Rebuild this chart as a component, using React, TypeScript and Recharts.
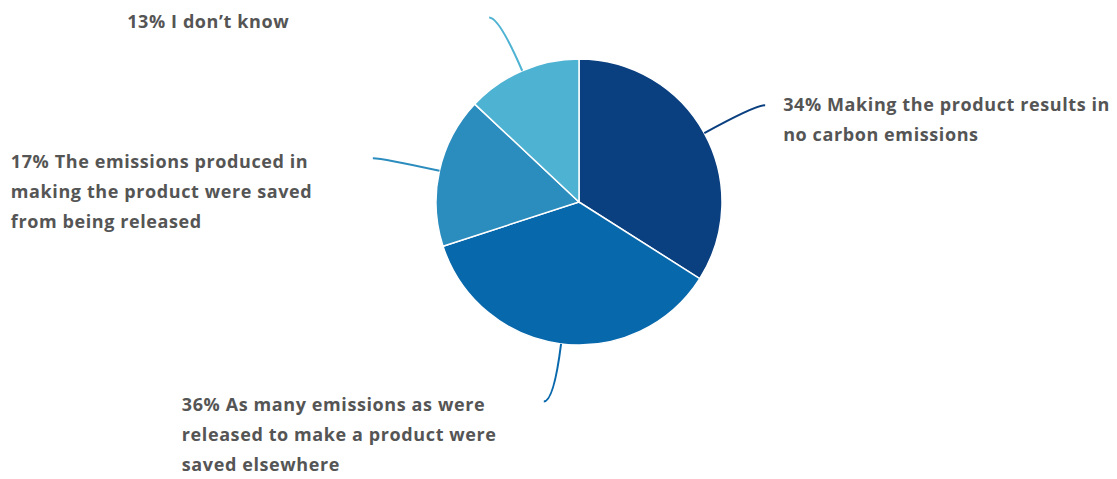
import { PieChart, Pie, Cell } from "recharts";

const categories = [
  "Making the product results in\nno carbon emissions",
  "As many emissions as were\nreleased to make a product were\nsaved elsewhere",
  "The emissions produced in\nmaking the product were saved\nfrom being released",
  "I don\u2019t know",
];
const shares = [34, 36, 17, 13];
const colors = ["#0a3f80", "#0868ac", "#2b8cbe", "#4eb3d3"];

const data = categories.map((name, i) => ({ name, value: shares[i] }));

const RAD = Math.PI / 180;

function renderLabel(props: any) {
  const { cx, cy, midAngle, outerRadius, index, value } = props;
  const cos = Math.cos(-midAngle * RAD);
  const sin = Math.sin(-midAngle * RAD);
  const right = cos >= 0;
  const sx = cx + outerRadius * cos;
  const sy = cy + outerRadius * sin;
  const qx = cx + (outerRadius + 58) * cos;
  const qy = cy + (outerRadius + 58) * sin;
  const ex = qx + (right ? 10 : -10);
  const ey = qy;
  const lines = `${value}% ${categories[index]}`.split("\n");
  const tx = right ? ex + 18 : ex - 362;
  const ty = right ? ey + 6 : ey + 10;
  return (
    <g key={`lbl-${index}`}>
      <path
        d={`M${sx},${sy} Q${qx},${qy} ${ex},${ey}`}
        stroke={colors[index]}
        strokeWidth={2}
        fill="none"
      />
      <text
        x={tx}
        y={ty}
        fill="#555555"
        fontSize={18}
        fontWeight={700}
        letterSpacing={0.6}
        fontFamily="'Open Sans', sans-serif"
        textAnchor="start"
      >
        {lines.map((l, i) => (
          <tspan key={i} x={tx} dy={i === 0 ? 0 : 30}>
            {l}
          </tspan>
        ))}
      </text>
    </g>
  );
}

export default function App() {
  return (
    <div style={{ position: "absolute", left: 0, top: 0, background: "#fff" }}>
      <PieChart width={1117} height={479} margin={{ top: 0, right: 0, bottom: 0, left: 0 }}>
        <Pie
          data={data}
          dataKey="value"
          nameKey="name"
          cx={579}
          cy={202}
          outerRadius={143}
          startAngle={90}
          endAngle={-270}
          stroke="#ffffff"
          strokeWidth={1.5}
          label={renderLabel}
          labelLine={false}
          isAnimationActive={false}
        >
          {data.map((d, i) => (
            <Cell key={d.name} fill={colors[i]} />
          ))}
        </Pie>
      </PieChart>
    </div>
  );
}
